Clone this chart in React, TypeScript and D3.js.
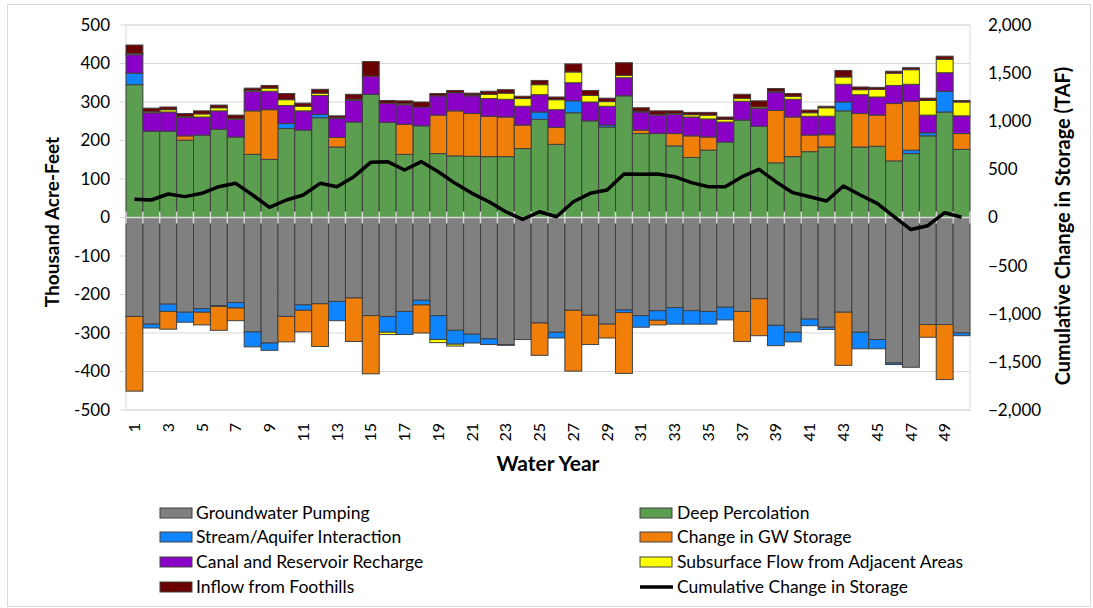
import React from 'react';
import * as d3 from 'd3';

// water years shown on the x axis
const years = [
  1, 2, 3, 4, 5, 6, 7, 8, 9, 10, 11, 12, 13, 14, 15, 16, 17, 18, 19, 20, 21, 22, 23, 24, 25,
  26, 27, 28, 29, 30, 31, 32, 33, 34, 35, 36, 37, 38, 39, 40, 41, 42, 43, 44, 45, 46, 47, 48, 49, 50,
];

// budget components, thousand acre-feet
const pumping = [
  -257, -277, -225, -246, -237, -229, -221, -297, -326, -257, -227, -224, -218, -209, -255, -257, -244,
  -215, -255, -293, -303, -315, -330, -317, -274, -298, -241, -254, -277, -240, -255, -242, -234, -242,
  -244, -233, -244, -211, -280, -298, -264, -285, -246, -298, -317, -378, -389, -278, -278, -300,
];
const deepPercolation = [
  345, 224, 224, 201, 214, 229, 209, 164, 151, 231, 227, 259, 183, 248, 320, 247, 164, 238, 166, 160,
  159, 158, 158, 179, 255, 190, 272, 251, 235, 316, 218, 218, 186, 156, 175, 196, 253, 237, 142, 158,
  171, 183, 277, 183, 185, 147, 166, 212, 274, 177,
];
const streamAquifer = [
  30, -10, -19, -26, -9, -2, -14, -39, -19, 13, -14, 9, -50, 0, 0, -41, -60, -12, -62, -36, -23, -15,
  -2, 0, 19, -15, 31, 0, 5, -7, -30, -25, -43, -35, -33, -33, 0, 0, -53, -25, -17, -6, 23, -43, -24,
  -4, 9, 8, 54, -7,
];
const gwStorage = [
  -194, 0, -46, 11, -33, -62, -33, 113, 129, -66, -56, -111, 25, -113, -151, 0, 78, -73, 100, 117, 111,
  105, 103, 61, -84, 44, -158, -76, -36, -158, 9, -12, 32, 56, 34, 0, -78, -96, 136, 103, 43, 32, -138,
  87, 81, 149, 127, -33, -143, 41,
];
const canalReservoir = [
  48, 48, 50, 48, 47, 48, 46, 51, 48, 47, 50, 49, 49, 56, 47, 50, 51, 49, 50, 47, 46, 46, 46, 49, 45,
  46, 47, 49, 49, 47, 47, 48, 50, 49, 47, 52, 49, 46, 48, 46, 49, 48, 46, 49, 47, 47, 44, 46, 48, 46,
];
const subsurface = [
  3, 3, 6, 2, 8, 8, 2, 2, 8, 15, 12, 6, 2, 3, 0, -6, 3, 0, -8, -5, 2, 11, 16, 20, 26, 26, 28, 17, 12,
  6, 2, 2, 2, 6, 10, 7, 7, 4, 2, 8, 9, 22, 19, 13, 20, 32, 38, 38, 35, 36,
];
const foothills = [
  22, 9, 7, 8, 8, 7, 9, 6, 7, 16, 8, 10, 5, 13, 38, 7, 7, 13, 6, 6, 5, 8, 9, 6, 11, 7, 21, 13, 9, 33,
  9, 9, 7, 6, 7, 6, 11, 16, 7, 7, 7, 4, 17, 7, 5, 5, 5, 6, 8, 4,
];
// cumulative change in storage, TAF (right axis)
const cumulative = [
  190, 182, 244, 217, 251, 320, 355, 234, 106, 182, 234, 355, 320, 424, 573, 580, 494, 580, 476, 355,
  251, 164, 60, -20, 60, 8, 164, 251, 286, 452, 449, 452, 424, 362, 320, 320, 424, 500, 372, 258, 216,
  171, 327, 234, 147, 8, -125, -85, 50, 2,
];

const seriesNames = [
  'Groundwater Pumping',
  'Deep Percolation',
  'Stream/Aquifer Interaction',
  'Change in GW Storage',
  'Canal and Reservoir Recharge',
  'Subsurface Flow from Adjacent Areas',
  'Inflow from Foothills',
];
const lineName = 'Cumulative Change in Storage';
const seriesColors = ['#808080', '#5b9e50', '#0f84ff', '#f07f0a', '#8a00c6', '#ffff00', '#6b0000'];

const W = 1093;
const H = 608;
const plot = { left: 126, right: 970, top: 25, bottom: 410 };
const FONT = 'Lato, "Liberation Sans", sans-serif';

const App: React.FC = () => {
  const series = [pumping, deepPercolation, streamAquifer, gwStorage, canalReservoir, subsurface, foothills];
  const rows = years.map((yr, i) => {
    const r: Record<string, number> = { year: yr };
    seriesNames.forEach((n, k) => (r[n] = series[k][i]));
    return r;
  });

  const stacked = d3.stack<Record<string, number>>()
    .keys(seriesNames)
    .offset(d3.stackOffsetDiverging)(rows);

  const x = d3.scaleBand<number>().domain(years).range([plot.left, plot.right]).padding(0);
  const y = d3.scaleLinear().domain([-500, 500]).range([plot.bottom, plot.top]);
  const y2 = d3.scaleLinear().domain([-2000, 2000]).range([plot.bottom, plot.top]);
  const bw = x.bandwidth();

  const line = d3.line<number>()
    .x((_, i) => (x(years[i]) as number) + bw / 2)
    .y((d) => y2(d));

  const yTicks = d3.range(-500, 501, 100);
  const y2Ticks = d3.range(-2000, 2001, 500);
  const fmt = d3.format(',');

  const legendItems = [...seriesNames.map((n, i) => ({ name: n, color: seriesColors[i], line: false })),
    { name: lineName, color: '#000', line: true }];

  return (
    <svg width={W} height={H} style={{ position: 'absolute', left: 0, top: 0, background: '#fff' }}
      fontFamily={FONT}>
      <rect x={7.5} y={4.5} width={W - 10} height={H - 6} fill="#fff" stroke="#d9d9d9" />

      {/* gridlines */}
      {yTicks.map((t) => (
        <line key={t} x1={plot.left} x2={plot.right} y1={y(t)} y2={y(t)} stroke="#d9d9d9" strokeWidth={1} />
      ))}
      <rect x={plot.left} y={plot.top} width={plot.right - plot.left} height={plot.bottom - plot.top}
        fill="none" stroke="#d9d9d9" />
      {yTicks.map((t) => (
        <line key={'tk' + t} x1={plot.left - 6} x2={plot.left} y1={y(t)} y2={y(t)} stroke="#d9d9d9" />
      ))}

      {/* stacked bars */}
      {stacked.map((layer, k) => (
        <g key={layer.key} fill={seriesColors[k]} stroke="#404040" strokeWidth={1}>
          {layer.map((d, i) => {
            const h = Math.abs(y(d[0]) - y(d[1]));
            if (h < 0.01) return null;
            return (
              <rect key={i} x={x(years[i])} y={Math.min(y(d[0]), y(d[1]))} width={bw} height={h} />
            );
          })}
        </g>
      ))}

      {/* category axis at zero */}
      <line x1={plot.left} x2={plot.right} y1={y(0)} y2={y(0)} stroke="#d9d9d9" strokeWidth={1.5} />
      {years.map((yr) => (
        <line key={'xt' + yr} x1={x(yr)} x2={x(yr)} y1={y(0) - 6} y2={y(0) + 6} stroke="#d9d9d9" strokeWidth={1.5} />
      ))}
      <line x1={plot.right} x2={plot.right} y1={y(0) - 6} y2={y(0) + 6} stroke="#d9d9d9" strokeWidth={1.5} />

      {/* cumulative line */}
      <path d={line(cumulative) || ''} fill="none" stroke="#000" strokeWidth={3.5} strokeLinejoin="round" />

      {/* left axis labels */}
      {yTicks.map((t) => (
        <text key={'yl' + t} x={110} y={y(t)} dy="0.35em" textAnchor="end" fontSize={17} fill="#000">{t}</text>
      ))}
      {/* right axis labels */}
      {y2Ticks.map((t) => (
        <text key={'yr' + t} x={988} y={y2(t)} dy="0.35em" textAnchor="start" fontSize={17} fill="#000">{fmt(t)}</text>
      ))}
      {/* x labels */}
      {years.filter((yr) => yr % 2 === 1).map((yr) => (
        <text key={'xl' + yr} transform={`translate(${(x(yr) as number) + bw / 2},423) rotate(-90)`}
          dy="0.35em" textAnchor="end" fontSize={16} fill="#000">{yr}</text>
      ))}

      {/* axis titles */}
      <text transform="translate(52,222) rotate(-90)" dy="0.35em" textAnchor="middle" fontSize={19}
        fontWeight="bold" fill="#000">Thousand Acre-Feet</text>
      <text transform="translate(1063,226) rotate(-90)" dy="0.35em" textAnchor="middle" fontSize={20}
        fontWeight="bold" fill="#000">Cumulative Change in Storage (TAF)</text>
      <text x={548} y={471} textAnchor="middle" fontSize={21} fontWeight="bold" fill="#000">Water Year</text>

      {/* legend */}
      {legendItems.map((it, i) => {
        const col = i % 2;
        const row = Math.floor(i / 2);
        const sx = col === 0 ? 160 : 640;
        const tx = col === 0 ? 196 : 677;
        const cy = [513, 537, 562, 587][row];
        return (
          <g key={it.name}>
            {it.line ? (
              <line x1={sx} x2={sx + 33} y1={cy} y2={cy} stroke="#000" strokeWidth={3.5} />
            ) : (
              <rect x={sx} y={cy - 5} width={32} height={10} fill={it.color} stroke="#404040" />
            )}
            <text x={tx} y={cy} dy="0.35em" fontSize={17.5} fill="#000">{it.name}</text>
          </g>
        );
      })}
    </svg>
  );
};

export default App;
